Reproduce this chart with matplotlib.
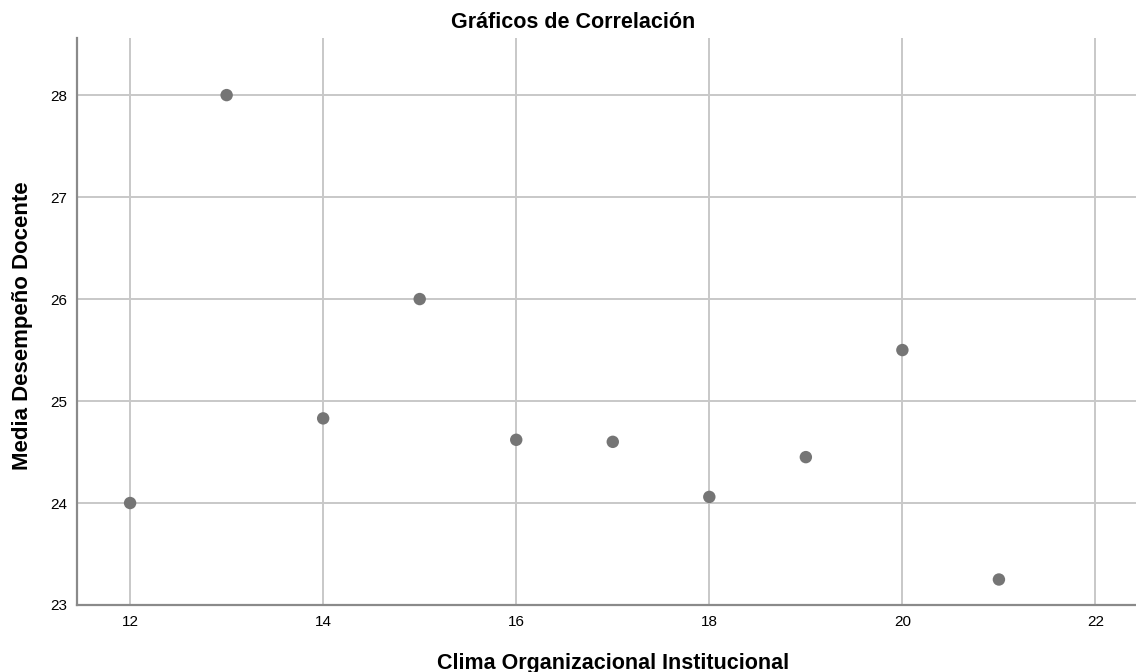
import matplotlib
matplotlib.use("Agg")
import matplotlib.pyplot as plt

plt.rcParams['font.family'] = ['Liberation Sans', 'DejaVu Sans']

clima = [12, 13, 14, 15, 16, 17, 18, 19, 20, 21]
desempeno = [24.0, 28.0, 24.83, 26.0, 24.62, 24.60, 24.06, 24.45, 25.5, 23.25]
x_ticks = [12, 14, 16, 18, 20, 22]
y_ticks = [23, 24, 25, 26, 27, 28]

fig = plt.figure(figsize=(11.36, 6.72), dpi=100)
ax = fig.add_axes([77/1136, (672-605)/672, (1136-77)/1136, (605-38)/672])

ax.set_xlim(11.45, 22.42)
ax.set_ylim(23.0, 28.56)
ax.set_xticks(x_ticks)
ax.set_yticks(y_ticks)
ax.grid(True, color='#c8c8c8', linewidth=1.4)
ax.set_axisbelow(True)
ax.scatter(clima, desempeno, s=80, color='#757575', edgecolors='none', zorder=3)

for s in ['top', 'right']:
    ax.spines[s].set_visible(False)
for s in ['left', 'bottom']:
    ax.spines[s].set_color('#8a8a8a')
    ax.spines[s].set_linewidth(1.6)
ax.tick_params(length=0, labelsize=11, colors='#000000', pad=7)

fig.text(573/1136, 1 - 23/672, 'Gráficos de Correlación', ha='center', va='center',
         fontsize=15.5, fontweight='bold')
fig.text(613/1136, 1 - 663/672, 'Clima Organizacional Institucional', ha='center', va='center',
         fontsize=15.5, fontweight='bold')
fig.text(23/1136, 1 - 326/672, 'Media Desempeño Docente', ha='center', va='center',
         rotation=90, fontsize=16, fontweight='bold')

fig.savefig('out.png', dpi=100)
